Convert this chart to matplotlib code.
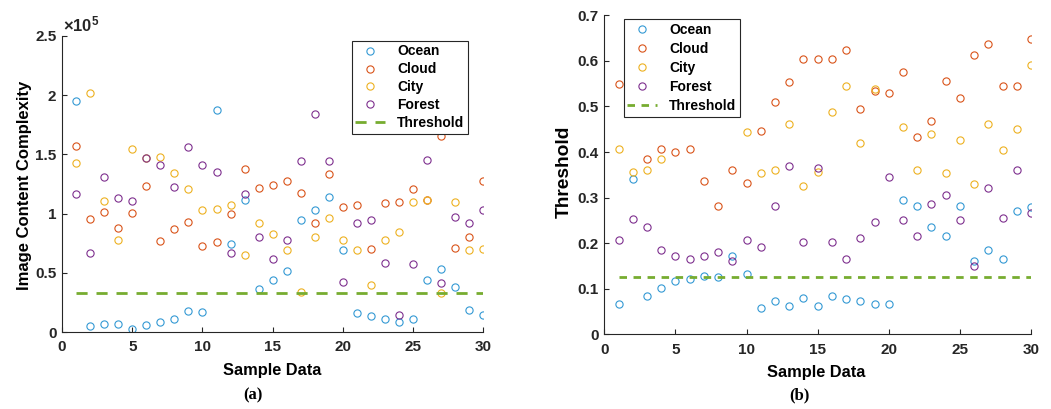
import numpy as np
import matplotlib.pyplot as plt
from matplotlib.ticker import FuncFormatter

plt.rcParams['font.family'] = ['Liberation Sans', 'DejaVu Sans']
plt.rcParams['font.weight'] = 'bold'
plt.rcParams['mathtext.fontset'] = 'custom'
plt.rcParams['mathtext.rm'] = 'Liberation Sans'
plt.rcParams['mathtext.bf'] = 'Liberation Sans:bold'

samples = np.arange(1, 31)
nan = np.nan

# (a) image content complexity, in units of 1e5
ocean_a = [1.95, 0.05, 0.07, 0.07, 0.025, 0.06, 0.084, 0.112, 0.174, 0.166,
           1.876, 0.748, 1.114, 0.363, 0.441, 0.512, 0.945, 1.035, 1.142, 0.689,
           0.160, 0.132, 0.110, 0.082, 0.112, 0.436, 0.537, 0.385, 0.186, 0.146]
cloud_a = [1.57, 0.956, 1.01, 0.875, 1.004, 1.235, 0.773, 0.869, 0.931, 0.731,
           0.759, 1.001, 1.375, 1.215, 1.246, 1.274, 1.173, 0.917, 1.339, 1.06,
           1.071, 0.703, 1.091, 1.10, 1.204, 1.115, 1.659, 0.706, 0.799, 1.274]
city_a = [1.43, 2.02, 1.105, 0.779, 1.547, 1.47, 1.479, 1.344, 1.212, 1.032,
          1.04, 1.069, 0.65, 0.917, 0.832, 0.695, 0.34, 0.804, 0.965, 0.779,
          0.695, 0.397, 0.779, 0.841, 1.097, 1.116, 0.329, 1.097, 0.689, 0.703]
forest_a = [1.17, 0.667, 1.31, 1.136, 1.105, 1.47, 1.409, 1.223, 1.566, 1.414,
            1.35, 0.667, 1.167, 0.804, 0.621, 0.779, 1.445, 1.842, 1.445, 0.427,
            0.925, 0.945, 0.585, 0.146, 0.576, 1.457, 0.413, 0.976, 0.92, 1.032]
scale_a = 1e5
threshold_a = 0.33

# (b) threshold values
ocean_b = [0.067, 0.34, 0.085, 0.102, 0.118, 0.121, 0.129, 0.125, 0.171, 0.132,
           0.058, 0.073, 0.062, 0.079, 0.062, 0.083, 0.078, 0.074, 0.067, 0.067,
           0.294, 0.282, 0.236, 0.216, 0.282, 0.160, 0.185, 0.165, 0.271, 0.279]
cloud_b = [0.549, 0.55, 0.384, 0.407, 0.399, 0.407, 0.337, 0.282, 0.36, 0.333,
           0.447, 0.509, 0.553, 0.604, 0.604, 0.604, 0.623, 0.494, 0.533, 0.53,
           0.576, 0.432, 0.468, 0.556, 0.518, 0.612, 0.636, 0.545, 0.545, 0.647]
city_b = [0.407, 0.356, 0.36, 0.384, 0.56, 0.485, 0.55, 0.6, 0.55, 0.443,
          0.353, 0.36, 0.462, 0.325, 0.356, 0.487, 0.545, 0.42, 0.538, nan,
          0.455, 0.361, 0.439, 0.353, 0.427, 0.329, 0.462, 0.404, 0.451, 0.592]
forest_b = [0.207, 0.254, 0.236, 0.185, 0.171, 0.165, 0.171, 0.18, 0.161, 0.207,
            0.191, 0.282, 0.369, 0.203, 0.364, 0.203, 0.165, 0.211, 0.247, 0.345,
            0.251, 0.216, 0.287, 0.305, 0.251, 0.150, 0.320, 0.255, 0.361, 0.267]
threshold_b = 0.125

names = ['Ocean', 'Cloud', 'City', 'Forest']
colors = ['#3399d4', '#d95319', '#edb120', '#7e2f8e']
green = '#77ac30'
dark = '#262626'

fig = plt.figure(figsize=(10.51, 4.09), dpi=100)
ax1 = fig.add_axes([0.059, 0.188, 0.401, 0.724])
ax2 = fig.add_axes([0.575, 0.1826, 0.406, 0.780])


def draw(ax, series, thr, yscale, dashes):
    for vals, name, c in zip(series, names, colors):
        ax.plot(samples, np.array(vals) * yscale, 'o', mfc='none', mec=c,
                ms=5.2, mew=0.8, label=name, linestyle='none')
    ax.plot([samples[0], samples[-1]], [thr * yscale] * 2, '--', color=green,
            lw=2.0, dashes=dashes, label='Threshold')
    ax.set_xlim(0, 30)
    ax.set_xticks([0, 5, 10, 15, 20, 25, 30])
    for s in ['top', 'right']:
        ax.spines[s].set_visible(False)
    for s in ['left', 'bottom']:
        ax.spines[s].set_color(dark)
        ax.spines[s].set_linewidth(0.8)
    ax.tick_params(direction='in', length=3.5, width=0.8, labelsize=11,
                   colors=dark)
    ax.tick_params(axis='x', pad=6)
    ax.tick_params(axis='y', pad=4)


def make_legend(ax, anchor, spacing):
    leg = ax.legend(loc='upper left', bbox_to_anchor=anchor, fontsize=10,
                    frameon=True, fancybox=False, edgecolor=dark, framealpha=1,
                    handlelength=2.1, borderpad=0.25, labelspacing=spacing,
                    handletextpad=0.9, borderaxespad=0)
    leg.get_frame().set_linewidth(0.8)
    leg.set_zorder(10)
    return leg


draw(ax1, [ocean_a, cloud_a, city_a, forest_a], threshold_a, scale_a, (4, 3.2))
ax1.set_ylim(0, 2.5e5)
ax1.set_yticks(np.arange(0, 2.51e5, 0.5e5))
ax1.yaxis.set_major_formatter(FuncFormatter(lambda v, p: '%g' % (v / 1e5)))
ax1.set_ylabel('Image Content Complexity', fontsize=12, fontweight='bold',
               family=['Liberation Sans Narrow', 'Liberation Sans', 'DejaVu Sans'])
ax1.yaxis.set_label_coords(-0.071, 0.497)
ax1.set_xlabel('Sample Data', fontsize=11.8, fontweight='bold')
ax1.xaxis.set_label_coords(0.498, -0.105)
ax1.text(0.003, 1.005, r'$\times\mathbf{10^{5}}$', transform=ax1.transAxes,
         fontsize=12, color=dark, va='bottom')
make_legend(ax1, (0.688, 0.983), 0.28)

draw(ax2, [ocean_b, cloud_b, city_b, forest_b], threshold_b, 1.0, (2.7, 2.35))
ax2.set_ylim(0, 0.7)
ax2.set_yticks(np.arange(0, 0.71, 0.1))
ax2.yaxis.set_major_formatter(FuncFormatter(lambda v, p: '%g' % round(v, 1)))
ax2.set_ylabel('Threshold', fontsize=13.8, fontweight='bold')
ax2.yaxis.set_label_coords(-0.073, 0.51)
ax2.set_xlabel('Sample Data', fontsize=11.8, fontweight='bold')
ax2.xaxis.set_label_coords(0.497, -0.096)
make_legend(ax2, (0.046, 0.988), 0.37)

fig.text(253 / 1051, 1 - 395 / 409, '(a)', ha='center', va='center',
         fontsize=12, fontweight='bold', family=['Liberation Serif', 'DejaVu Serif'])
fig.text(799 / 1051, 1 - 395 / 409, '(b)', ha='center', va='center',
         fontsize=12, fontweight='bold', family=['Liberation Serif', 'DejaVu Serif'])

fig.savefig('out.png', dpi=100, facecolor='white')
